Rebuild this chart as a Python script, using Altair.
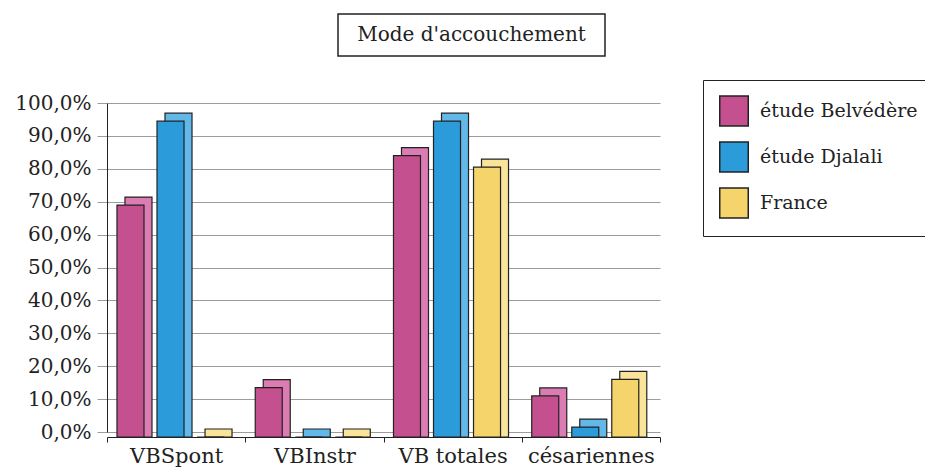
import altair as alt
import pandas as pd

categories = ["VBSpont", "VBInstr", "VB totales", "césariennes"]
series = ["étude Belvédère", "étude Djalali", "France"]
belvedere = [70.5, 15.0, 85.5, 12.5]
djalali = [96.0, 0.0, 96.0, 3.0]
france = [0.0, 0.0, 82.0, 17.5]
y_ticks = [0, 10, 20, 30, 40, 50, 60, 70, 80, 90, 100]
title_text = "Mode d'accouchement"

front_colors = ["#C4508F", "#2B9BDA", "#F5D46C"]
depth_colors = ["#DB7DB2", "#62B8E8", "#F9E49A"]

rows = []
for s, vals in zip(series, [belvedere, djalali, france]):
    for c, v in zip(categories, vals):
        rows.append({"cat": c, "series": s, "value": v})
df = pd.DataFrame(rows)

FONT = "DejaVu Serif"
W, H = 553, 329
band = W / len(categories)
DEPTH = 8

x_enc = alt.X("cat:N", sort=categories, title=None,
              scale=alt.Scale(paddingInner=0, paddingOuter=0),
              axis=alt.Axis(labelAngle=0, tickBand="extent", offset=5, tickSize=5,
                            tickColor="#222", domainColor="#222", labelFont=FONT,
                            labelFontSize=21, labelColor="#222", labelPadding=3, grid=False))
y_enc = alt.Y("value:Q", title=None, stack=None,
              scale=alt.Scale(domain=[0, 100], nice=False),
              axis=alt.Axis(values=y_ticks, grid=True, gridColor="#9c9c9c", gridWidth=1,
                            tickSize=10, tickColor="#9c9c9c", domainColor="#222",
                            labelFont=FONT, labelFontSize=20, labelColor="#222",
                            labelPadding=6,
                            labelExpr="replace(format(datum.value, '.1f'), '.', ',') + '%'"))

pad_kw = dict(paddingInner=0.325, paddingOuter=0.39, align=0.32)

depth = alt.Chart(df).mark_bar(stroke="#222", strokeWidth=1.2, yOffset=-3, y2Offset=5).encode(
    x=x_enc,
    xOffset=alt.XOffset("series:N", sort=series,
                        scale=alt.Scale(range=[DEPTH, band + DEPTH], **pad_kw)),
    y=y_enc,
    y2=alt.datum(0),
    color=alt.Color("series:N", sort=series,
                    scale=alt.Scale(domain=series, range=depth_colors), legend=None),
)

front = alt.Chart(df).mark_bar(stroke="#222", strokeWidth=1.2, yOffset=5, y2Offset=5).encode(
    x=x_enc,
    xOffset=alt.XOffset("series:N", sort=series, scale=alt.Scale(**pad_kw)),
    y=y_enc,
    y2=alt.datum(0),
    color=alt.Color("series:N", sort=series,
                    scale=alt.Scale(domain=series, range=front_colors),
                    legend=alt.Legend(orient="none", legendX=596, legendY=-23, title=None,
                                      strokeColor="#222", fillColor="white", padding=15,
                                      symbolType="M-0.95,-1H0.95V1H-0.95Z", symbolSize=900,
                                      symbolStrokeColor="#222", symbolStrokeWidth=1.5,
                                      symbolOpacity=1,
                                      labelFont=FONT, labelFontSize=19, labelColor="#222",
                                      labelOffset=10, rowPadding=10, labelLimit=400)),
)

tdf = pd.DataFrame({"t": [title_text]})
title_box = alt.Chart(tdf).mark_rect(fill="white", stroke="#222", strokeWidth=1.5).encode(
    x=alt.value(231), x2=alt.value(498), y=alt.value(-89), y2=alt.value(-47))
title_txt = alt.Chart(tdf).mark_text(font=FONT, fontSize=20, color="#222",
                                     align="center", baseline="middle").encode(
    x=alt.value(364.5), y=alt.value(-68), text="t:N")

chart = alt.layer(depth, front, title_box, title_txt).resolve_scale(
    xOffset="independent", color="independent"
).resolve_legend(color="independent").properties(
    width=W, height=H,
    autosize=alt.AutoSizeParams(type="none"),
    padding={"left": 99, "top": 95, "right": 265, "bottom": 35},
    background="white",
).configure_view(stroke=None)

chart.save("out.html", embed_options={"renderer": "svg", "actions": False})
